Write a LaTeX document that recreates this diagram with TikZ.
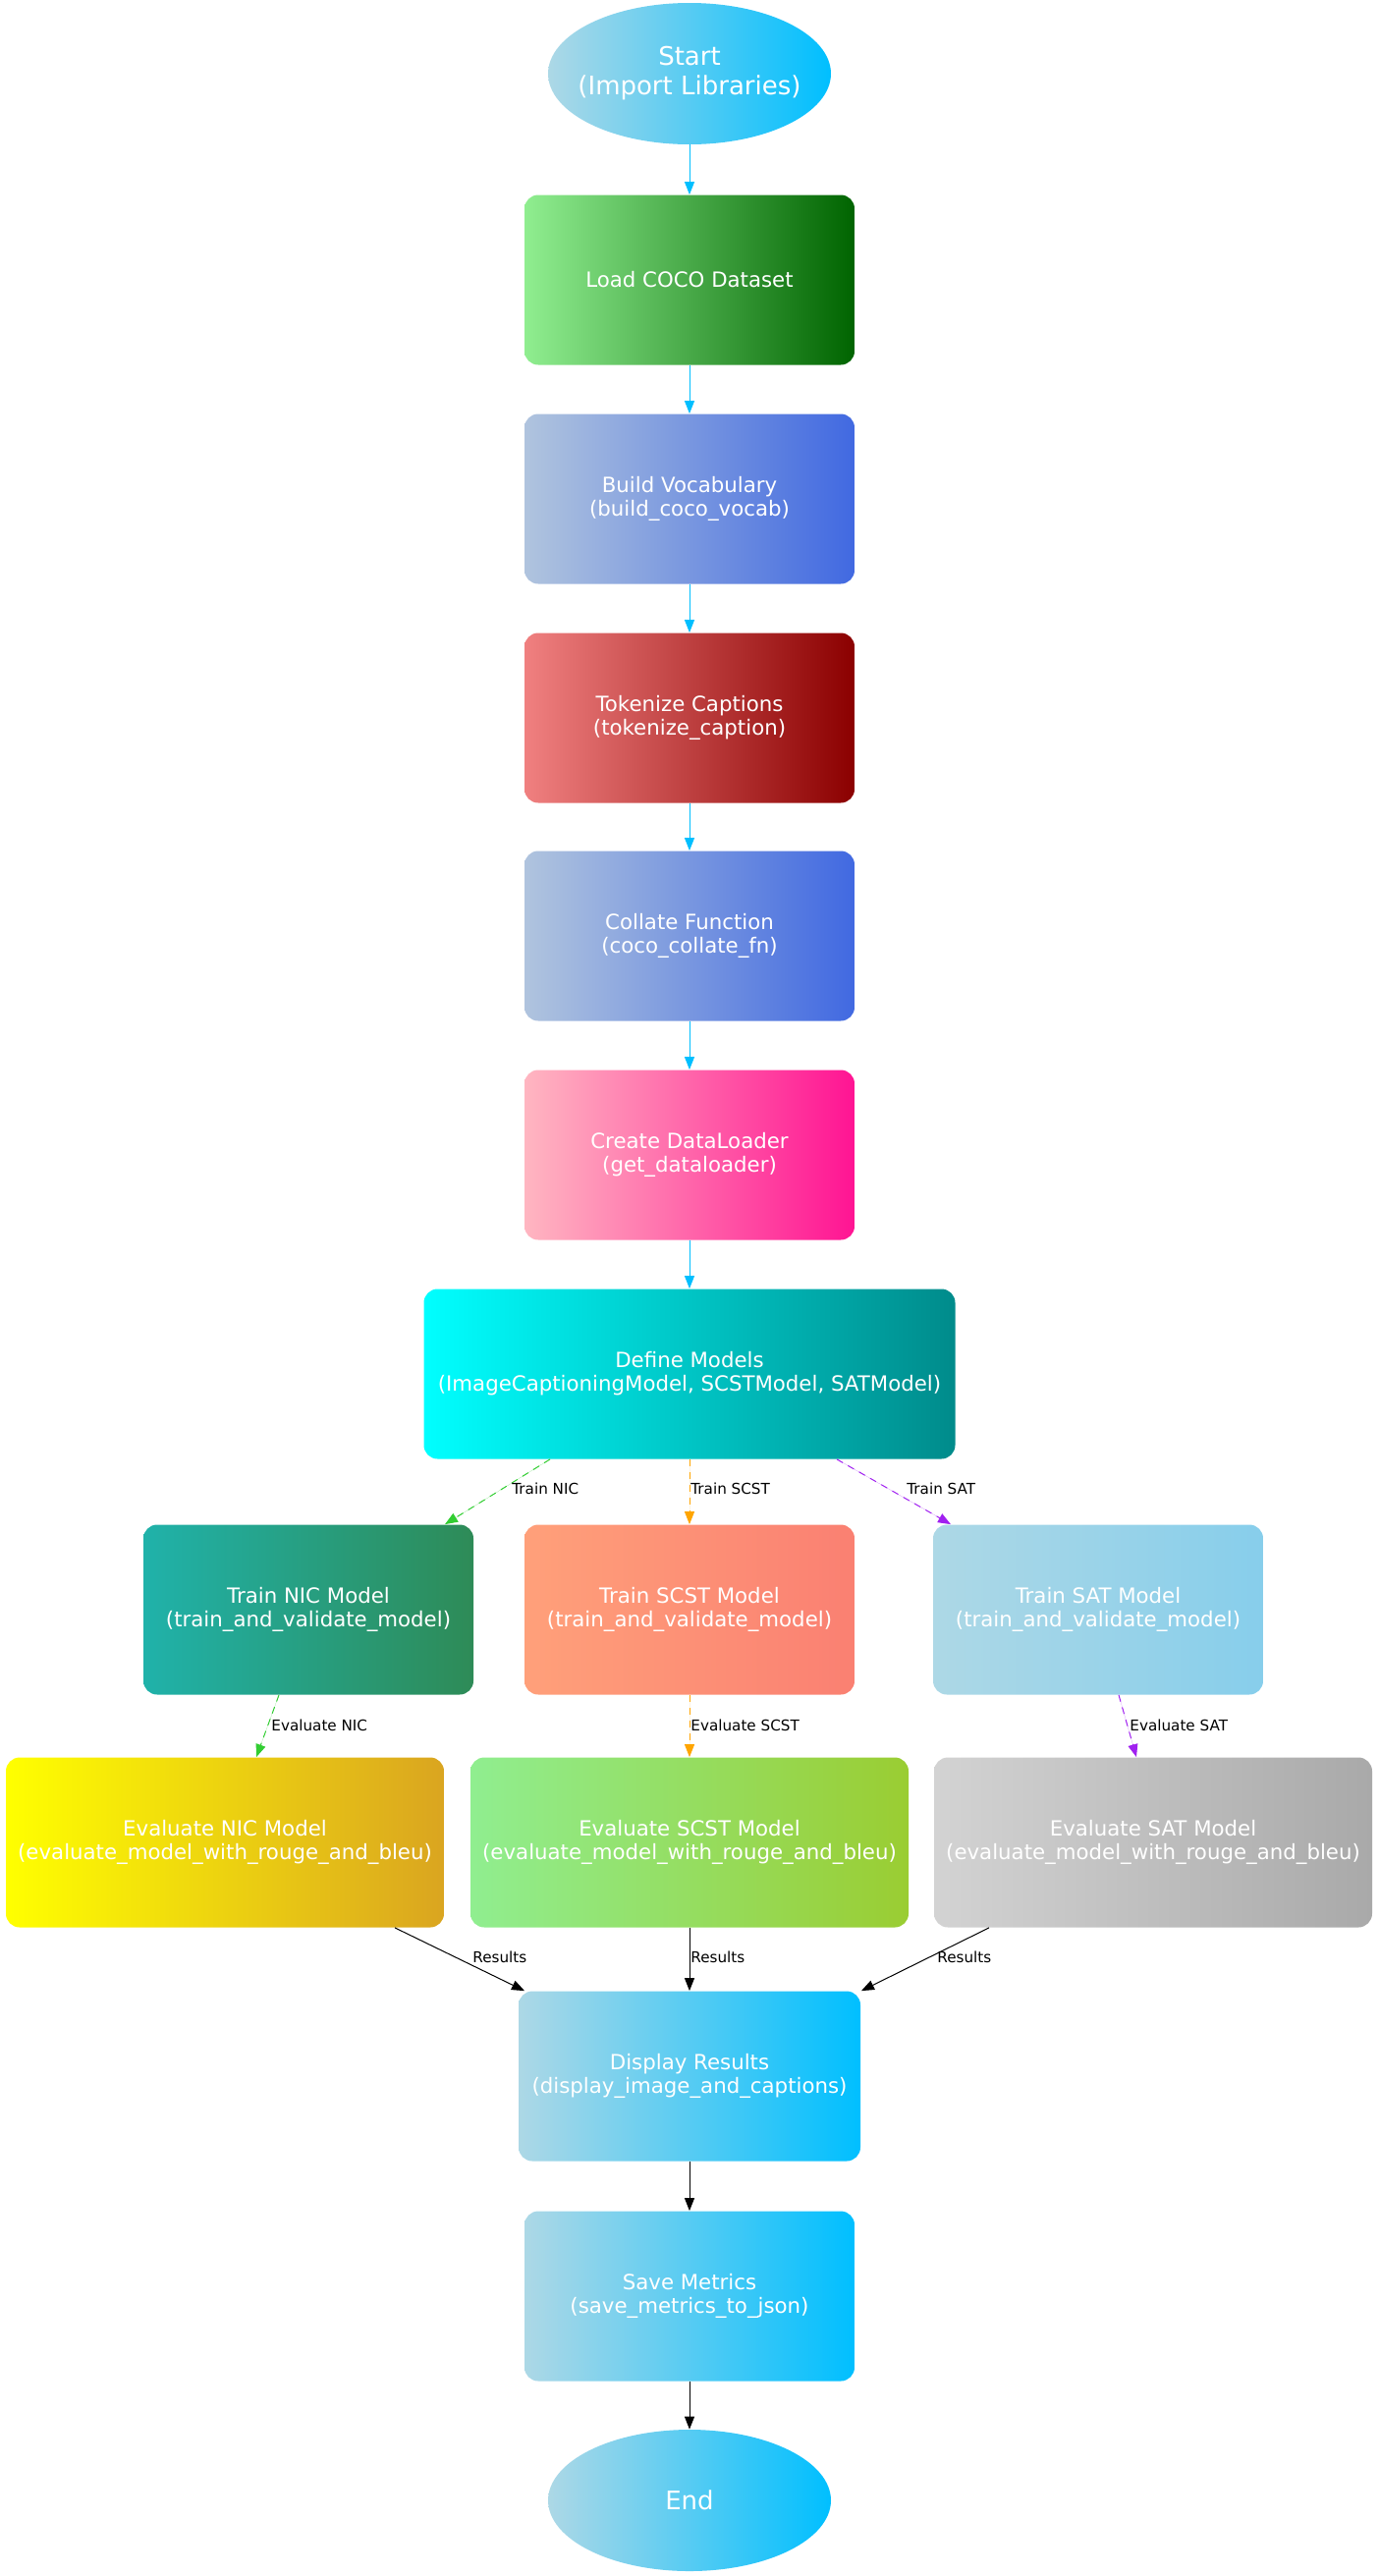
\documentclass[tikz,border=0pt]{standalone}
\usepackage{fontspec}
\setmainfont{DejaVu Sans}
\usetikzlibrary{shapes.geometric,arrows.meta,calc}
\definecolor{lightblueX}{HTML}{ADD8E6}
\definecolor{deepskyblueX}{HTML}{00BFFF}
\definecolor{lightgreenX}{HTML}{90EE90}
\definecolor{darkgreenX}{HTML}{006400}
\definecolor{lightsteelblueX}{HTML}{B0C4DE}
\definecolor{royalblueX}{HTML}{4169E1}
\definecolor{lightcoralX}{HTML}{F08080}
\definecolor{darkredX}{HTML}{8B0000}
\definecolor{lightpinkX}{HTML}{FFB6C1}
\definecolor{deeppinkX}{HTML}{FF1493}
\definecolor{cyanX}{HTML}{00FFFF}
\definecolor{darkcyanX}{HTML}{008B8B}
\definecolor{lightseagreenX}{HTML}{20B2AA}
\definecolor{seagreenX}{HTML}{2E8B57}
\definecolor{lightsalmonX}{HTML}{FFA07A}
\definecolor{salmonX}{HTML}{FA8072}
\definecolor{skyblueX}{HTML}{87CEEB}
\definecolor{yellowX}{HTML}{FFFF00}
\definecolor{goldenrodX}{HTML}{DAA520}
\definecolor{yellowgreenX}{HTML}{9ACD32}
\definecolor{lightgrayX}{HTML}{D3D3D3}
\definecolor{darkgrayX}{HTML}{A9A9A9}
\definecolor{limegreenX}{HTML}{32CD32}
\definecolor{orangeX}{HTML}{FFA500}
\definecolor{purpleX}{HTML}{A020F0}
\tikzset{
  box/.style={rectangle, rounded corners=7pt, minimum width=168pt, minimum height=86.5pt,
    inner sep=0pt, text=white, align=center, font=\fontsize{10.65}{12.1}\selectfont},
  oval/.style={ellipse, minimum width=144pt, minimum height=72pt, inner sep=0pt,
    left color=lightblueX, right color=deepskyblueX},
  ovaltext/.style={text=white, align=center, inner sep=0pt, font=\fontsize{13}{15}\selectfont},
  grad/.style 2 args={left color=#1, right color=#2},
  flow/.style={draw=deepskyblueX, line width=0.5pt, -{Triangle[length=6.5pt,width=5pt]}},
  blackflow/.style={draw=black, line width=0.5pt, -{Triangle[length=6.5pt,width=5pt]}},
  dflow/.style={draw=#1, line width=0.5pt, dash pattern=on 3.5pt off 3pt,
    -{Triangle[length=6.5pt,width=5pt]}, fill=#1},
  elabel/.style={anchor=west, inner sep=0pt, text=black, font=\fontsize{7.6}{9}\selectfont},
}
\begin{document}
\begin{tikzpicture}[x=0.5pt,y=-0.5pt]
\useasboundingbox (0,0) rectangle (1403,2623);
\node[oval] (start) at (702,75) {};
\node[ovaltext] (starttext) at (start.center) {Start\\(Import Libraries)};
\node[box, grad={lightgreenX}{darkgreenX}] (load) at (702,285) {Load COCO Dataset};
\node[box, grad={lightsteelblueX}{royalblueX}] (vocab) at (702,508) {Build Vocabulary\\(build\_coco\_vocab)};
\node[box, grad={lightcoralX}{darkredX}] (token) at (702,731) {Tokenize Captions\\(tokenize\_caption)};
\node[box, grad={lightsteelblueX}{royalblueX}] (collate) at (702,953) {Collate Function\\(coco\_collate\_fn)};
\node[box, grad={lightpinkX}{deeppinkX}] (loader) at (702,1176) {Create DataLoader\\(get\_dataloader)};
\node[box, minimum width=270.5pt, grad={cyanX}{darkcyanX}] (define) at (702,1399) {Define Models\\(ImageCaptioningModel, SCSTModel, SATModel)};
\node[box, grad={lightseagreenX}{seagreenX}] (trainnic) at (314,1639) {Train NIC Model\\(train\_and\_validate\_model)};
\node[box, grad={lightsalmonX}{salmonX}] (trainscst) at (702,1639) {Train SCST Model\\(train\_and\_validate\_model)};
\node[box, grad={lightblueX}{skyblueX}] (trainsat) at (1118,1639) {Train SAT Model\\(train\_and\_validate\_model)};
\node[box, minimum width=223pt, grad={yellowX}{goldenrodX}] (evalnic) at (229,1876) {Evaluate NIC Model\\(evaluate\_model\_with\_rouge\_and\_bleu)};
\node[box, minimum width=223pt, grad={lightgreenX}{yellowgreenX}] (evalscst) at (702,1876) {Evaluate SCST Model\\(evaluate\_model\_with\_rouge\_and\_bleu)};
\node[box, minimum width=223pt, grad={lightgrayX}{darkgrayX}] (evalsat) at (1174,1876) {Evaluate SAT Model\\(evaluate\_model\_with\_rouge\_and\_bleu)};
\node[box, minimum width=174pt, grad={lightblueX}{deepskyblueX}] (display) at (702,2114) {Display Results\\(display\_image\_and\_captions)};
\node[box, grad={lightblueX}{deepskyblueX}] (save) at (702,2338) {Save Metrics\\(save\_metrics\_to\_json)};
\node[oval] (end) at (702,2546) {};
\node[ovaltext] (endtext) at (end.center) {End};
% main chain
\draw[flow] (start) -- (load);
\draw[flow] (load) -- (vocab);
\draw[flow] (vocab) -- (token);
\draw[flow] (token) -- (collate);
\draw[flow] (collate) -- (loader);
\draw[flow] (loader) -- (define);
% training
\draw[dflow=limegreenX] ($(define.south)+(-142,0)$) -- ($(trainnic.north)+(139,0)$);
\draw[dflow=orangeX] (define) -- (trainscst);
\draw[dflow=purpleX] ($(define.south)+(150,0)$) -- ($(trainsat.north)+(-150,0)$);
\node[elabel] (lt1) at (521,1516) {Train NIC};
\node[elabel] (lt2) at (703,1516) {Train SCST};
\node[elabel] (lt3) at (923,1516) {Train SAT};
% evaluation
\draw[dflow=limegreenX] ($(trainnic.south)+(-30,0)$) -- ($(evalnic.north)+(32,0)$);
\draw[dflow=orangeX] (trainscst) -- (evalscst);
\draw[dflow=purpleX] ($(trainsat.south)+(21,0)$) -- ($(evalsat.north)+(-17,0)$);
\node[elabel] (le1) at (276,1757) {Evaluate NIC};
\node[elabel] (le2) at (703,1757) {Evaluate SCST};
\node[elabel] (le3) at (1150,1757) {Evaluate SAT};
% results
\draw[blackflow] ($(evalnic.south)+(173,0)$) -- ($(display.north)+(-168,0)$);
\draw[blackflow] (evalscst) -- (display);
\draw[blackflow] ($(evalsat.south)+(-167,0)$) -- ($(display.north)+(175,0)$);
\node[elabel] (lr1) at (481,1993) {Results};
\node[elabel] (lr2) at (703,1993) {Results};
\node[elabel] (lr3) at (954,1993) {Results};
\draw[blackflow] (display) -- (save);
\draw[blackflow] (save) -- (end);
\end{tikzpicture}
\end{document}
